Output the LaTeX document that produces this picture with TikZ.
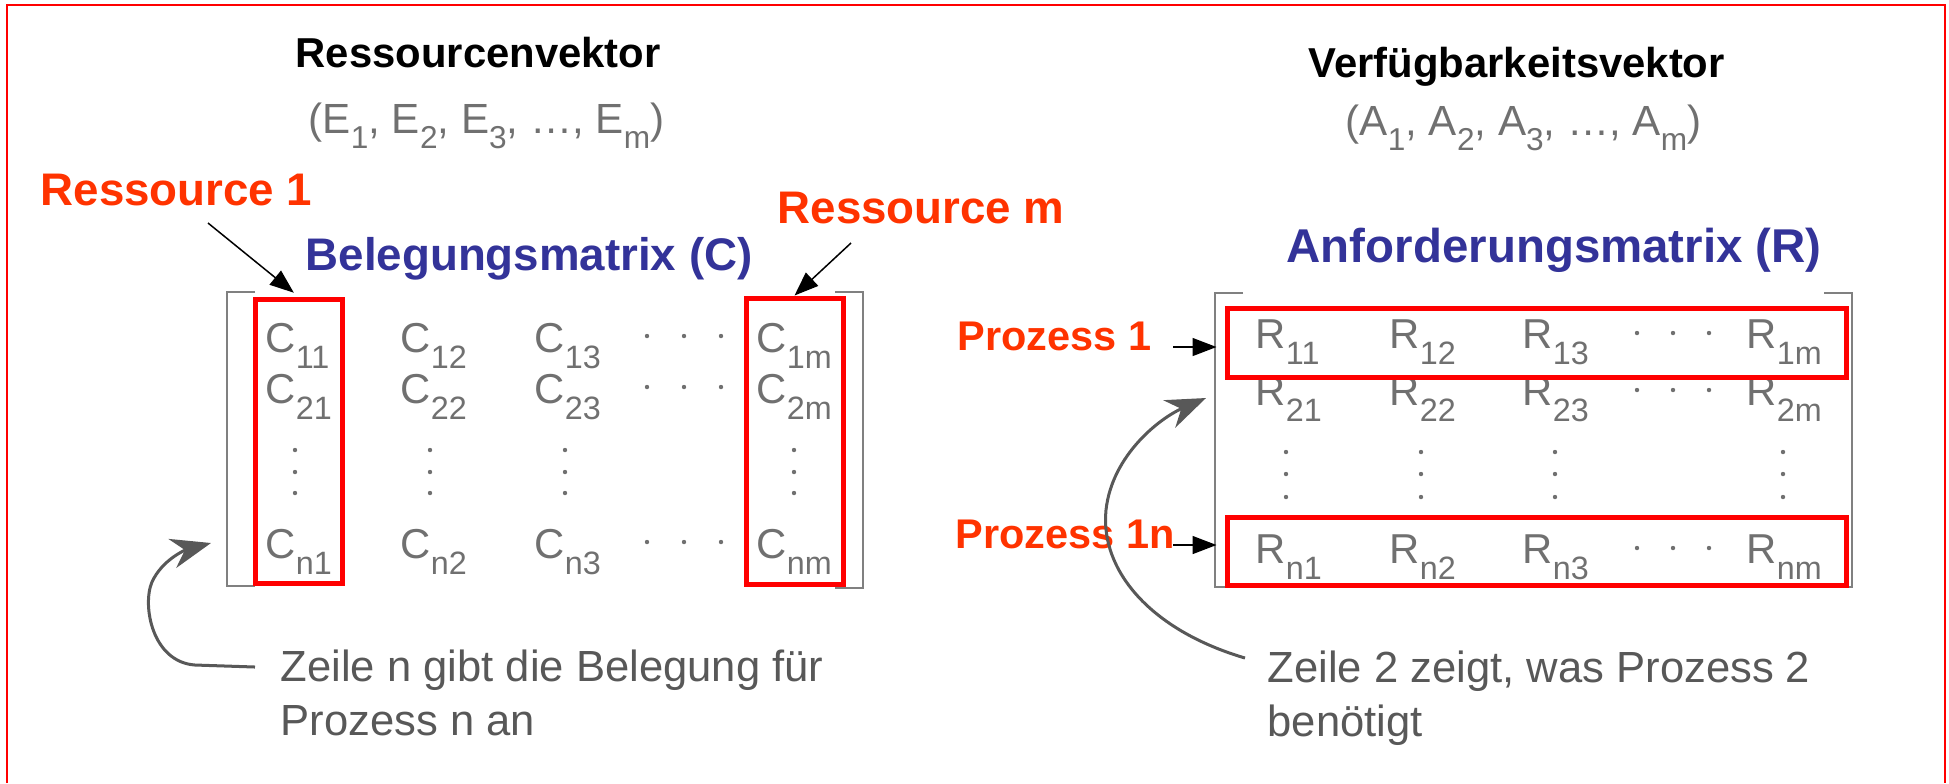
\documentclass[tikz,border=0pt]{standalone}
\usepackage{fontspec}
\setmainfont{Liberation Sans}
\usetikzlibrary{arrows.meta,positioning}
\definecolor{labelred}{RGB}{255,51,0}
\definecolor{titleblue}{RGB}{51,51,153}
\definecolor{entrygray}{RGB}{112,112,112}
\definecolor{notegray}{RGB}{88,88,88}
\newcommand\lowidx[1]{\raisebox{-1.6mm}{\fontsize{9.2pt}{9.2pt}\selectfont #1}}
\newcommand\vecidx[1]{\raisebox{-1.5mm}{\fontsize{9pt}{9pt}\selectfont #1}}

\begin{document}
\begin{tikzpicture}[x=0.1mm, y=-0.1mm,
  txt/.style={anchor=base west, inner sep=0pt},
  heading/.style={txt, font=\bfseries\fontsize{11.9pt}{14pt}\selectfont},
  title/.style={txt, text=titleblue, font=\bfseries\fontsize{13pt}{15pt}\selectfont},
  tag/.style={txt, text=labelred, font=\bfseries\fontsize{13pt}{15pt}\selectfont},
  proc/.style={tag, font=\bfseries\fontsize{11.8pt}{14pt}\selectfont},
  entry/.style={txt, text=entrygray, font=\fontsize{11.9pt}{14pt}\selectfont},
  vect/.style={txt, text=entrygray, font=\fontsize{12pt}{14pt}\selectfont},
  note/.style={anchor=north west, inner sep=0pt, text=notegray, align=left,
    font=\fontsize{12.4pt}{15.4pt}\selectfont},
  redbox/.style={draw=red, line width=0.5mm, inner sep=0pt},
  bracket/.style={draw=gray, line width=0.25mm},
  pointer/.style={draw, line width=0.15mm, -{Triangle[length=2.4mm, width=1.8mm]}},
  curvearrow/.style={draw=notegray, line width=0.3mm, -{Stealth[length=4mm, width=3mm]}},
]
\useasboundingbox (0,0) rectangle (1949,783);
\draw[red, line width=0.2mm] (7,783) -- (7,5) -- (1945,5) -- (1945,783);

% vectors
\node[heading] (resvec) at (295,67) {Ressourcenvektor};
\node[vect] (evec) at (308,133) {(E\vecidx{1}, E\vecidx{2}, E\vecidx{3}, …, E\vecidx{m})};
\node[heading] (availvec) at (1308,77) {Verfügbarkeitsvektor};
\node[vect] (avec) at (1345,135) {(A\vecidx{1}, A\vecidx{2}, A\vecidx{3}, …, A\vecidx{m})};

% matrix C
\node[title] (cmat) at (305,270) {Belegungsmatrix (C)};
\draw[bracket] (255,292) -- (227,292) -- (227,586) -- (255,586);
\draw[bracket] (835,292) -- (863,292) -- (863,588) -- (835,588);
\foreach \col/\x in {1/265, 2/400, 3/534, m/756}
  \foreach \row/\y in {1/352, 2/403, n/558}
    \node[entry] (c\row\col) at (\x,\y) {C\lowidx{\row\col}};
\foreach \y in {336,387,542}
  \foreach \x in {647,684,721}
    \fill[entrygray] (\x,\y) circle (0.22mm);
\foreach \x in {295,430,565,794}
  \foreach \y in {450,472,493}
    \fill[entrygray] (\x,\y) circle (0.22mm);
\node[redbox, minimum width=8.7mm, minimum height=28.4mm] (colone) at (298.5,441) {};
\node[redbox, minimum width=9.7mm, minimum height=28.6mm] (colm) at (794.5,441) {};

\node[tag] (res1) at (40,205) {Ressource 1};
\node[tag] (resm) at (777,223) {Ressource m};
\coordinate (res1tail) at (208,223);
\coordinate (resmtail) at (851,243);
\draw[pointer, shorten >=0.6mm] (res1tail) -- (colone.north);
\draw[pointer] (resmtail) -- (colm.north);

% matrix R
\node[title, font=\bfseries\fontsize{13.5pt}{15pt}\selectfont] (rmat) at (1286,262) {Anforderungsmatrix (R)};
\draw[bracket] (1243,293) -- (1215,293) -- (1215,587) -- (1243,587);
\draw[bracket] (1824,293) -- (1852,293) -- (1852,587) -- (1824,587);
\foreach \col/\x in {1/1255, 2/1389, 3/1522, m/1746}
  \foreach \row/\y in {1/348, 2/405, n/563}
    \node[entry] (r\row\col) at (\x,\y) {R\lowidx{\row\col}};
\foreach \y in {333,390,548}
  \foreach \x in {1637,1673,1709}
    \fill[entrygray] (\x,\y) circle (0.22mm);
\foreach \x in {1286,1421,1555,1783}
  \foreach \y in {452,474,497}
    \fill[entrygray] (\x,\y) circle (0.22mm);
\node[redbox, minimum width=61.9mm, minimum height=6.9mm] (rowone) at (1536.5,342.5) {};
\node[redbox, minimum width=61.9mm, minimum height=6.8mm] (rown) at (1536.5,551) {};

\node[proc] (pr1) at (957,350) {Prozess 1};
\node[proc] (pr1n) at (955,548) {Prozess 1n};
\coordinate (pr1tail) at (1173,347);
\coordinate (pr1ntail) at (1173,545);
\draw[pointer, shorten >=0.8mm] (pr1tail) -- (rowone.west |- pr1tail);
\draw[pointer, shorten >=0.8mm] (pr1ntail) -- (rown.west |- pr1ntail);

% notes
\node[note] (cnote) at (280,649) {Zeile n gibt die Belegung für\\Prozess n an};
\node[note] (rnote) at (1267,650) {Zeile 2 zeigt, was Prozess 2\\benötigt};
\coordinate (cbendtail) at (255,667);
\coordinate (cbendtip) at (211,543);
\coordinate (rbendtail) at (1245,658);
\coordinate (rbendtip) at (1206,398);
\draw[curvearrow] (cbendtail) -- (195,665) .. controls (152,662) and (142,605) .. (152,582)
  .. controls (162,560) and (185,550) .. (cbendtip);
\draw[curvearrow] (rbendtail) .. controls (1150,630) and (1100,570) .. (1106,510)
  .. controls (1112,455) and (1160,418) .. (rbendtip);
\end{tikzpicture}
\end{document}
